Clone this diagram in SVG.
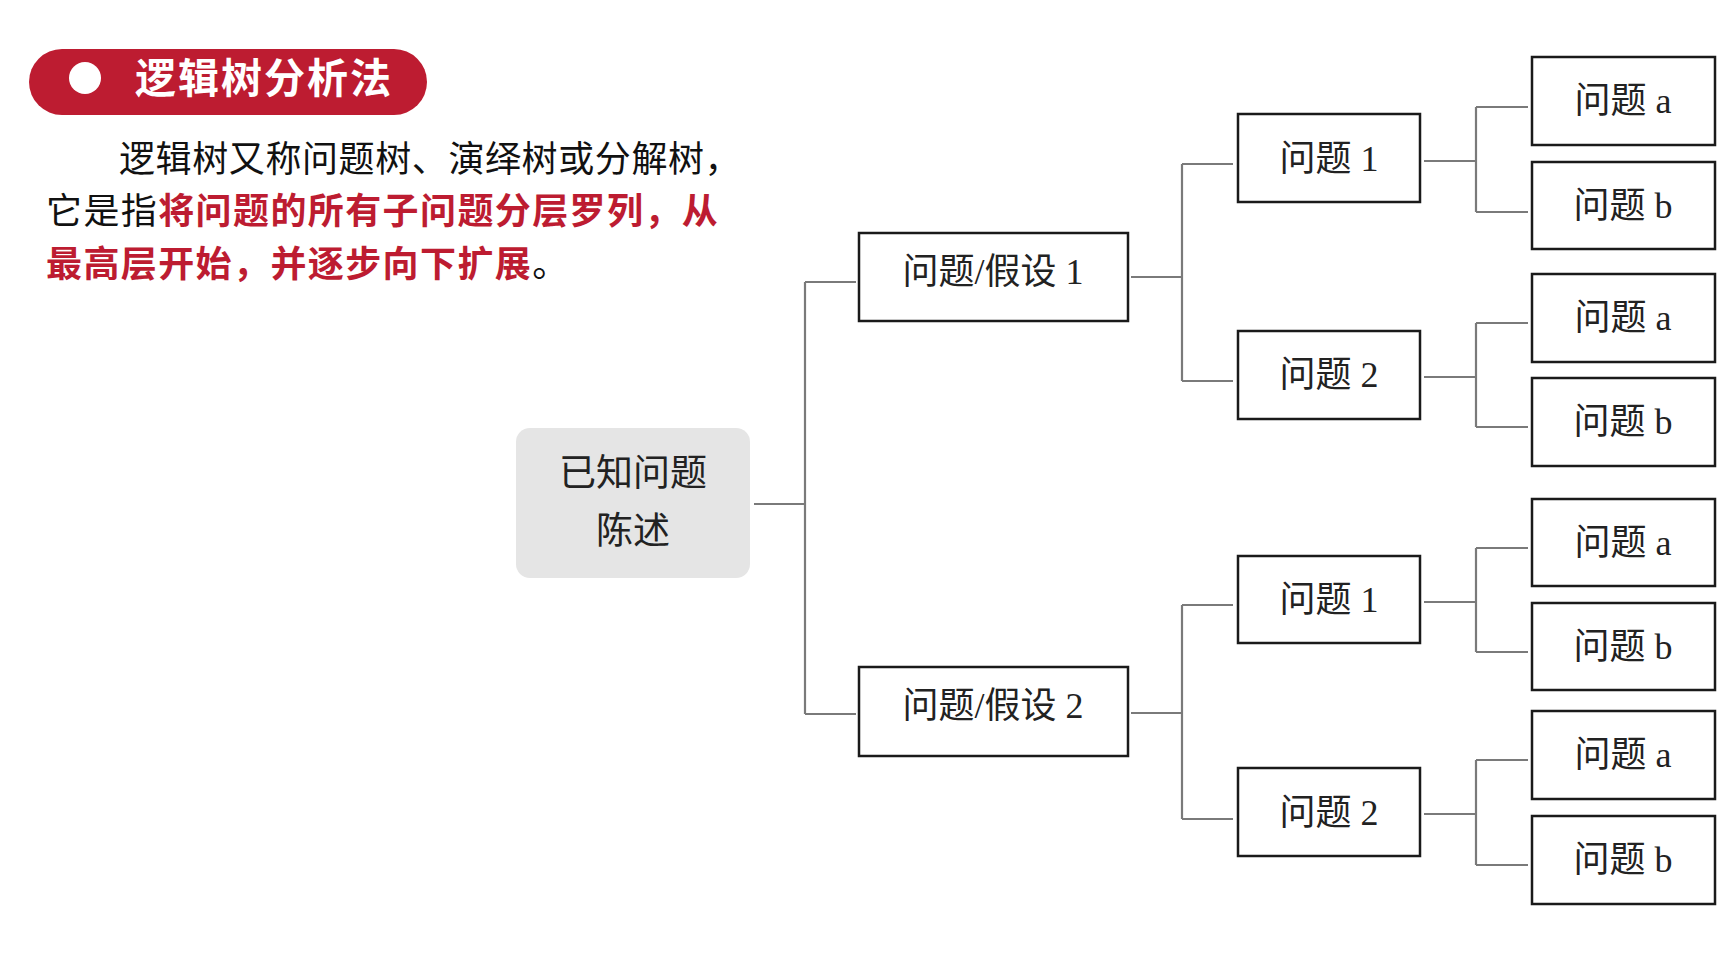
<svg xmlns="http://www.w3.org/2000/svg" width="1730" height="966" viewBox="0 0 1730 966">
<style>
.para{font-family:"Noto Sans CJK SC","Liberation Sans",sans-serif;font-size:36px;letter-spacing:1.4px;fill:#111}
.red{fill:#BD1C31;font-weight:bold}
.box{fill:#fff;stroke:#1a1a1a;stroke-width:2.5}
.lbl{font-family:"Liberation Serif","Noto Sans CJK SC",serif;font-size:36px;fill:#222;text-anchor:middle}
.con{fill:none;stroke:#7a7a7a;stroke-width:2.2}
</style>
<rect width="1730" height="966" fill="#fff"/>
<g id="header">
<rect x="29" y="49" width="398" height="66" rx="33" fill="#BD1C31"/>
<circle cx="85" cy="78" r="16" fill="#fff"/>
<text x="135" y="93" font-family="'Noto Sans CJK SC','Liberation Sans',sans-serif" font-size="41" font-weight="bold" letter-spacing="2" fill="#fff">逻辑树分析法</text>
</g>
<g id="paragraph">
<text class="para" x="119" y="172" style="letter-spacing:0.6px">逻辑树又称问题树、演绎树或分解树，</text>
<text class="para" x="46" y="224">它是指<tspan class="red">将问题的所有子问题分层罗列，从</tspan></text>
<text class="para" x="46" y="277"><tspan class="red">最高层开始，并逐步向下扩展</tspan>。</text>
</g>
<g id="connectors">
<path class="con" d="M754 504H805M805 282V714M805 282H856M805 714H856"/>
<path class="con" d="M1131 277H1182M1182 164V381M1182 164H1233M1182 381H1233"/>
<path class="con" d="M1131 713H1182M1182 605V819M1182 605H1233M1182 819H1233"/>
<path class="con" d="M1424 161H1476M1476 107V212M1476 107H1528M1476 212H1528"/>
<path class="con" d="M1424 377H1476M1476 323V427M1476 323H1528M1476 427H1528"/>
<path class="con" d="M1424 602H1476M1476 548V652M1476 548H1528M1476 652H1528"/>
<path class="con" d="M1424 814H1476M1476 760V865M1476 760H1528M1476 865H1528"/>
</g>
<g id="root">
<rect x="516" y="428" width="234" height="150" rx="14" fill="#E5E5E5"/>
<text class="lbl" x="633" y="486" style="font-size:37px">已知问题</text>
<text class="lbl" x="633" y="544" style="font-size:37px">陈述</text>
</g>
<g id="h1"><rect class="box" x="859" y="233" width="269" height="88"/><text class="lbl" x="993" y="284">问题/假设 1</text></g>
<g id="h2"><rect class="box" x="859" y="667" width="269" height="89"/><text class="lbl" x="993" y="718">问题/假设 2</text></g>
<g id="q11"><rect class="box" x="1238" y="114" width="182" height="88"/><text class="lbl" x="1329" y="171">问题 1</text></g>
<g id="q12"><rect class="box" x="1238" y="331" width="182" height="88"/><text class="lbl" x="1329" y="387">问题 2</text></g>
<g id="q21"><rect class="box" x="1238" y="556" width="182" height="87"/><text class="lbl" x="1329" y="612">问题 1</text></g>
<g id="q22"><rect class="box" x="1238" y="768" width="182" height="88"/><text class="lbl" x="1329" y="825">问题 2</text></g>
<g id="q11a"><rect class="box" x="1532" y="57" width="183" height="88"/><text class="lbl" x="1623" y="113">问题 a</text></g>
<g id="q11b"><rect class="box" x="1532" y="162" width="183" height="87"/><text class="lbl" x="1623" y="218">问题 b</text></g>
<g id="q12a"><rect class="box" x="1532" y="274" width="183" height="88"/><text class="lbl" x="1623" y="330">问题 a</text></g>
<g id="q12b"><rect class="box" x="1532" y="378" width="183" height="88"/><text class="lbl" x="1623" y="434">问题 b</text></g>
<g id="q21a"><rect class="box" x="1532" y="499" width="183" height="87"/><text class="lbl" x="1623" y="555">问题 a</text></g>
<g id="q21b"><rect class="box" x="1532" y="603" width="183" height="87"/><text class="lbl" x="1623" y="659">问题 b</text></g>
<g id="q22a"><rect class="box" x="1532" y="711" width="183" height="88"/><text class="lbl" x="1623" y="767">问题 a</text></g>
<g id="q22b"><rect class="box" x="1532" y="816" width="183" height="88"/><text class="lbl" x="1623" y="872">问题 b</text></g>
</svg>
